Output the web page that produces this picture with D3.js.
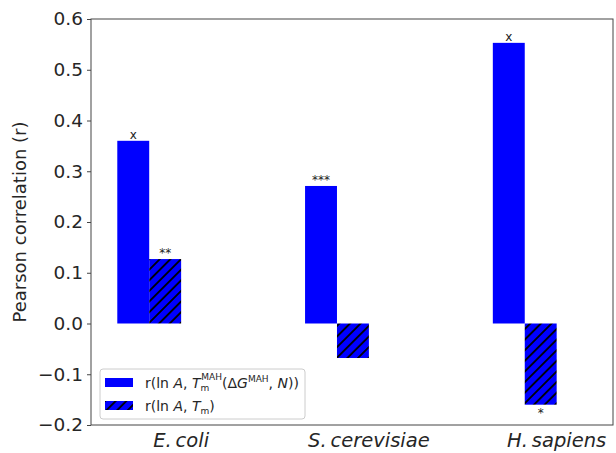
<!DOCTYPE html>
<html>
<head>
<meta charset="utf-8">
<script src="https://d3js.org/d3.v7.min.js"></script>
<style>
  body { margin: 0; background: #fff; }
  text { font-family: "DejaVu Sans", sans-serif; }
</style>
</head>
<body>
<svg class="chart" width="616" height="453"></svg>
<script>
// data
const categories = ["E. coli", "S. cerevisiae", "H. sapiens"];
const rMAH = [0.36, 0.271, 0.553];
const rTm = [0.127, -0.068, -0.16];
const marksMAH = ["x", "***", "x"];
const marksTm = ["**", "", "*"];
const yTicks = [-0.2, -0.1, 0.0, 0.1, 0.2, 0.3, 0.4, 0.5, 0.6];

const svg = d3.select('.chart');
const margin = { top: 19, right: 3, bottom: 28, left: 91 };
const W = +svg.attr('width'), H = +svg.attr('height');
const barW = 0.17;

const x = d3.scaleLinear().domain([-0.31, 2.47]).range([margin.left, W - margin.right]);
const y = d3.scaleLinear().domain([-0.2, 0.6]).range([H - margin.bottom, margin.top]);

// hatch pattern ("//")
const defs = svg.append('defs');
const pat = defs.append('pattern')
  .attr('id', 'hatch')
  .attr('patternUnits', 'userSpaceOnUse')
  .attr('width', 7.5).attr('height', 7.5)
  .attr('patternTransform', 'rotate(45)');
pat.append('rect').attr('width', 7.5).attr('height', 7.5).attr('fill', '#0000ff');
pat.append('line').attr('x1', 3.75).attr('y1', -1).attr('x2', 3.75).attr('y2', 8.5)
  .attr('stroke', '#000').attr('stroke-width', 1.8);

const g = svg.append('g');

// bars
g.selectAll('.bar-mah')
  .data(rMAH)
  .enter().append('rect')
  .attr('x', (d, i) => x(i - barW))
  .attr('width', (d, i) => x(i) - x(i - barW))
  .attr('y', d => y(Math.max(0, d)))
  .attr('height', d => Math.abs(y(d) - y(0)))
  .attr('fill', '#0000ff');

g.selectAll('.bar-tm')
  .data(rTm)
  .enter().append('rect')
  .attr('x', (d, i) => x(i))
  .attr('width', (d, i) => x(i + barW) - x(i))
  .attr('y', d => y(Math.max(0, d)))
  .attr('height', d => Math.abs(y(d) - y(0)))
  .attr('fill', 'url(#hatch)');

// significance marks
function mark(vals, marks, off) {
  g.selectAll(null)
    .data(vals)
    .enter().append('text')
    .attr('x', (d, i) => x(i + off))
    .attr('y', d => d >= 0 ? y(d) - 2 : y(d) + 12)
    .attr('text-anchor', 'middle')
    .attr('font-size', 12)
    .attr('fill', '#222')
    .text((d, i) => marks[i]);
}
mark(rMAH, marksMAH, -barW / 2);
mark(rTm, marksTm, barW / 2);

// frame
svg.append('rect')
  .attr('x', margin.left).attr('y', margin.top)
  .attr('width', W - margin.left - margin.right)
  .attr('height', H - margin.top - margin.bottom)
  .attr('fill', 'none').attr('stroke', '#444').attr('stroke-width', 1);

// y axis
const yAxis = svg.append('g')
  .attr('transform', `translate(${margin.left},0)`)
  .call(d3.axisLeft(y).tickValues(yTicks).tickFormat(d3.format('.1f')).tickSize(4).tickPadding(4));
yAxis.select('.domain').remove();
yAxis.selectAll('line').attr('stroke', '#444');
yAxis.selectAll('text')
  .attr('font-size', 18.5).attr('fill', '#262626')
  .attr('font-family', '"DejaVu Sans", sans-serif')
  .text(d => d3.format('.1f')(d).replace('-', '\u2212'));

// x labels (ticks sit at the right edge of the hatched bars)
svg.append('g').selectAll('text')
  .data(categories)
  .enter().append('text')
  .attr('x', (d, i) => x(i + barW))
  .attr('y', H - 6)
  .attr('text-anchor', 'middle')
  .attr('font-size', 19.5)
  .attr('font-style', 'italic')
  .attr('fill', '#262626')
  .text(d => d.replace('. ', '.\u2009'));

// y label
svg.append('text')
  .attr('transform', `translate(26,${(margin.top + H - margin.bottom) / 2}) rotate(-90)`)
  .attr('text-anchor', 'middle')
  .attr('font-size', 18)
  .attr('fill', '#262626')
  .text('Pearson correlation (r)');

// legend
const lg = svg.append('g').attr('transform', 'translate(100,369)');
lg.append('rect').attr('width', 205).attr('height', 50).attr('rx', 3)
  .attr('fill', '#fff').attr('fill-opacity', 0.85).attr('stroke', '#ccc');
lg.append('rect').attr('x', 5).attr('y', 9).attr('width', 28).attr('height', 9).attr('fill', '#0000ff');
lg.append('rect').attr('x', 5).attr('y', 32).attr('width', 28).attr('height', 9).attr('fill', 'url(#hatch)');

const fs = 14, fsSmall = 9;
const t1 = lg.append('text').attr('x', 45).attr('y', 19).attr('font-size', fs).attr('fill', '#262626');
t1.append('tspan').text('r(ln ');
t1.append('tspan').attr('font-style', 'italic').text('A');
t1.append('tspan').text(', ');
t1.append('tspan').attr('font-style', 'italic').text('T');
t1.append('tspan').attr('font-size', fsSmall).attr('dy', 3).text('m');
t1.append('tspan').attr('font-size', fsSmall).attr('dx', -8).attr('dy', -11).text('MAH');
t1.append('tspan').attr('dy', 8).text('(\u0394');
t1.append('tspan').attr('font-style', 'italic').text('G');
t1.append('tspan').attr('font-size', fsSmall).attr('dy', -6).text('MAH');
t1.append('tspan').attr('dy', 6).text(', ');
t1.append('tspan').attr('font-style', 'italic').text('N');
t1.append('tspan').text('))');

const t2 = lg.append('text').attr('x', 45).attr('y', 42).attr('font-size', fs).attr('fill', '#262626');
t2.append('tspan').text('r(ln ');
t2.append('tspan').attr('font-style', 'italic').text('A');
t2.append('tspan').text(', ');
t2.append('tspan').attr('font-style', 'italic').text('T');
t2.append('tspan').attr('font-size', fsSmall).attr('dy', 3).text('m');
t2.append('tspan').attr('dy', -3).text(')');
</script>
</body>
</html>
